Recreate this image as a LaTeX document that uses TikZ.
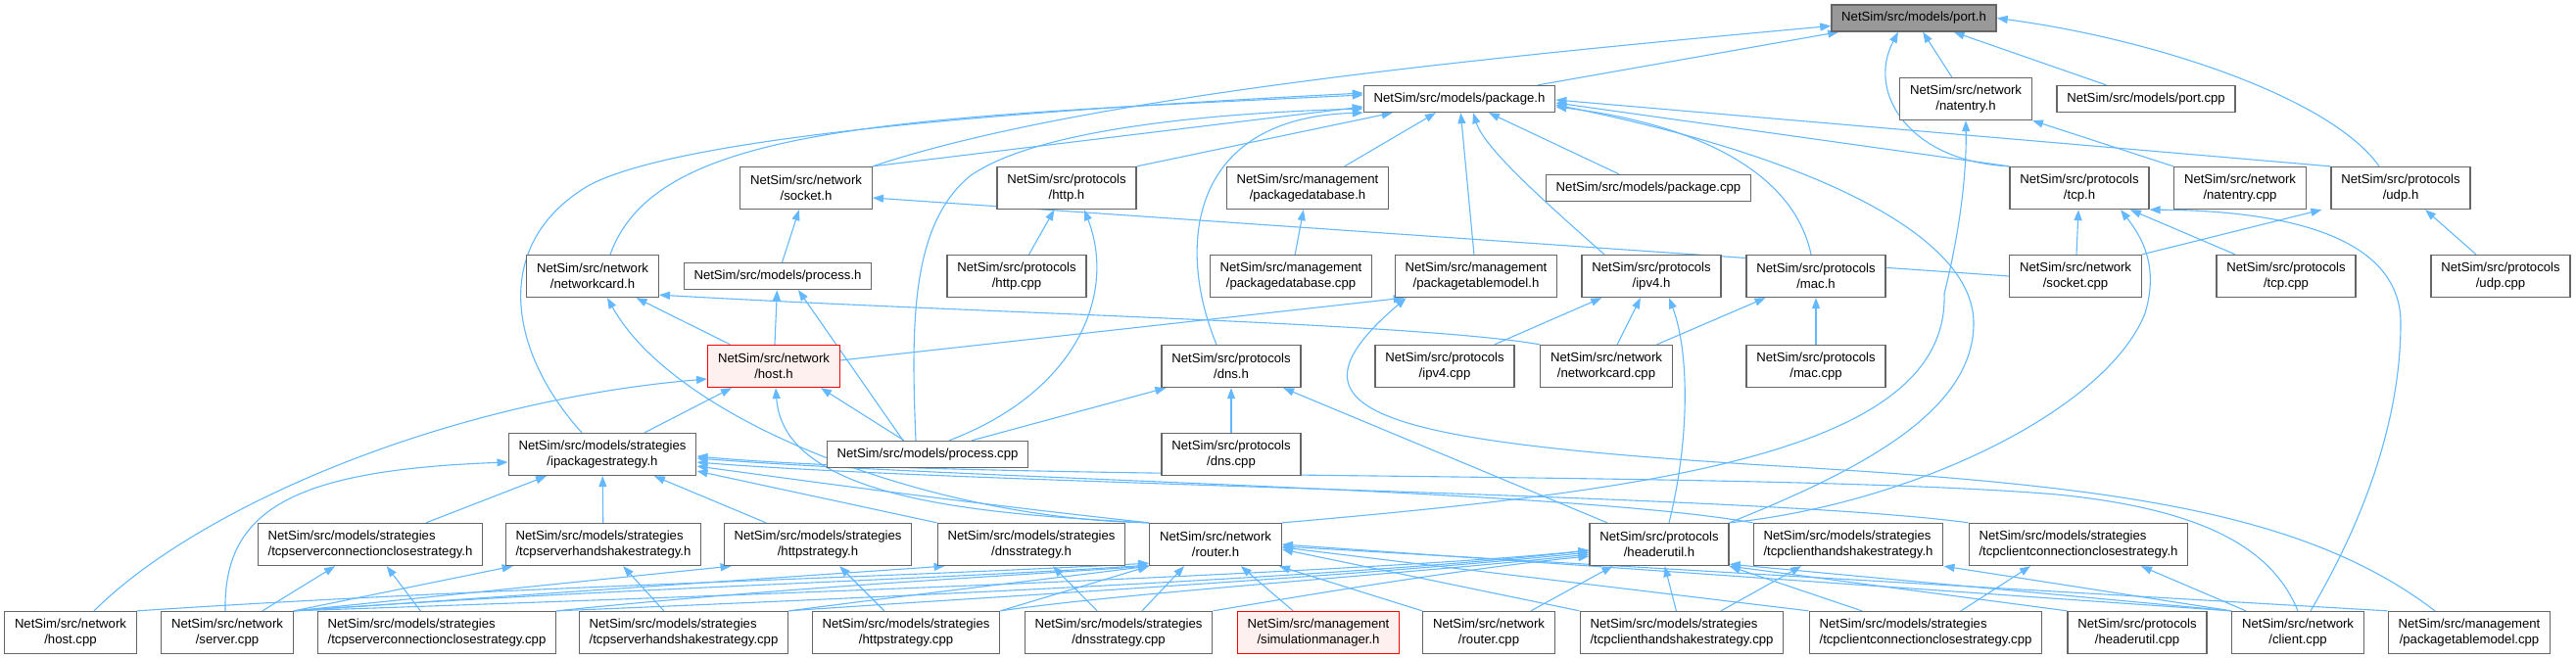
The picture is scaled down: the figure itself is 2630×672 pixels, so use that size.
\documentclass[tikz,border=0pt]{standalone}
\usepackage{fontspec}
\setmainfont{Liberation Sans}
\usepackage{tikz}
\usetikzlibrary{arrows.meta,backgrounds}
\definecolor{edgex}{HTML}{63B8FF}
\definecolor{framex}{HTML}{666666}
\definecolor{rootx}{HTML}{999999}
\definecolor{hotbg}{HTML}{FFF0F0}
\tikzset{
  fb/.style={draw=framex,line width=1.3pt,fill=white,align=center,inner xsep=10.3pt,inner ysep=0pt,minimum height=43pt},
  fs/.style={fb,minimum height=27pt},
  fl/.style={fb,align=left},
  rootb/.style={fs,fill=rootx},
  hotb/.style={fb,draw=red,fill=hotbg},
  ar/.style={-{Triangle[length=11pt,width=8pt]},line width=1.1pt,edgex}
}

\begin{document}
\begin{tikzpicture}[x=1pt,y=-1pt,font=\fontsize{13.15}{16.5}\selectfont]
\useasboundingbox (0,0) rectangle (2630,672);
\node[rootb] (port) at (1954,18.5) {NetSim/src/models/port.h};
\node[fs] (package) at (1490,101) {NetSim/src/models/package.h};
\node[fb] (natentry) at (2007,101) {NetSim/src/network\\/natentry.h};
\node[fs] (portcpp) at (2191,101) {NetSim/src/models/port.cpp};
\node[fb] (socket) at (823,192) {NetSim/src/network\\/socket.h};
\node[fb] (http) at (1089,192) {NetSim/src/protocols\\/http.h};
\node[fb] (pkgdb) at (1335,192) {NetSim/src/management\\/packagedatabase.h};
\node[fs] (packagecpp) at (1683,192) {NetSim/src/models/package.cpp};
\node[fb] (tcp) at (2123,192) {NetSim/src/protocols\\/tcp.h};
\node[fb] (natentrycpp) at (2287,192) {NetSim/src/network\\/natentry.cpp};
\node[fb] (udp) at (2451,192) {NetSim/src/protocols\\/udp.h};
\node[fb] (netcard) at (605,282) {NetSim/src/network\\/networkcard.h};
\node[fs] (process) at (794,282) {NetSim/src/models/process.h};
\node[fb] (httpcpp) at (1038,282) {NetSim/src/protocols\\/http.cpp};
\node[fb] (pkgdbcpp) at (1318,282) {NetSim/src/management\\/packagedatabase.cpp};
\node[fb] (ptm) at (1507,282) {NetSim/src/management\\/packagetablemodel.h};
\node[fb] (ipv4) at (1686,282) {NetSim/src/protocols\\/ipv4.h};
\node[fb] (mac) at (1854,282) {NetSim/src/protocols\\/mac.h};
\node[fb] (socketcpp) at (2119,282) {NetSim/src/network\\/socket.cpp};
\node[fb] (tcpcpp) at (2334,282) {NetSim/src/protocols\\/tcp.cpp};
\node[fb] (udpcpp) at (2553,282) {NetSim/src/protocols\\/udp.cpp};
\node[hotb] (host) at (790,374) {NetSim/src/network\\/host.h};
\node[fb] (dns) at (1257,374) {NetSim/src/protocols\\/dns.h};
\node[fb] (ipv4cpp) at (1475,374) {NetSim/src/protocols\\/ipv4.cpp};
\node[fb] (netcardcpp) at (1640,374) {NetSim/src/network\\/networkcard.cpp};
\node[fb] (maccpp) at (1854,374) {NetSim/src/protocols\\/mac.cpp};
\node[fb] (ips) at (615,464) {NetSim/src/models/strategies\\/ipackagestrategy.h};
\node[fs] (processcpp) at (947,464) {NetSim/src/models/process.cpp};
\node[fb] (dnscpp) at (1257,464) {NetSim/src/protocols\\/dns.cpp};
\node[fl] (tscs) at (378,556) {NetSim/src/models/strategies\\/tcpserverconnectionclosestrategy.h};
\node[fl] (tshs) at (616,556) {NetSim/src/models/strategies\\/tcpserverhandshakestrategy.h};
\node[fb] (https) at (835,556) {NetSim/src/models/strategies\\/httpstrategy.h};
\node[fb] (dnss) at (1053,556) {NetSim/src/models/strategies\\/dnsstrategy.h};
\node[fb] (router) at (1241,556) {NetSim/src/network\\/router.h};
\node[fb] (hdr) at (1694,556) {NetSim/src/protocols\\/headerutil.h};
\node[fl] (tchs) at (1887,556) {NetSim/src/models/strategies\\/tcpclienthandshakestrategy.h};
\node[fl] (tccs) at (2122,556) {NetSim/src/models/strategies\\/tcpclientconnectionclosestrategy.h};
\node[fb] (hostcpp) at (72,646) {NetSim/src/network\\/host.cpp};
\node[fb] (servercpp) at (232,646) {NetSim/src/network\\/server.cpp};
\node[fl] (tscscpp) at (446,646) {NetSim/src/models/strategies\\/tcpserverconnectionclosestrategy.cpp};
\node[fl] (tshscpp) at (698,646) {NetSim/src/models/strategies\\/tcpserverhandshakestrategy.cpp};
\node[fb] (httpscpp) at (925,646) {NetSim/src/models/strategies\\/httpstrategy.cpp};
\node[fb] (dnsscpp) at (1142,646) {NetSim/src/models/strategies\\/dnsstrategy.cpp};
\node[hotb] (simmgr) at (1346,646) {NetSim/src/management\\/simulationmanager.h};
\node[fb] (routercpp) at (1520,646) {NetSim/src/network\\/router.cpp};
\node[fl] (tchscpp) at (1717,646) {NetSim/src/models/strategies\\/tcpclienthandshakestrategy.cpp};
\node[fl] (tccscpp) at (1966,646) {NetSim/src/models/strategies\\/tcpclientconnectionclosestrategy.cpp};
\node[fb] (hdrcpp) at (2182,646) {NetSim/src/protocols\\/headerutil.cpp};
\node[fb] (clientcpp) at (2346,646) {NetSim/src/network\\/client.cpp};
\node[fb] (ptmcpp) at (2521,646) {NetSim/src/management\\/packagetablemodel.cpp};
\begin{scope}[on background layer]
\draw[ar] (package) -- ([xshift=8pt]port.south west);
\draw[ar] (socket.north east) .. controls (1100,100) and (1500,60) .. ([yshift=-8pt]port.west);
\draw[ar] (natentry) -- (port);
\draw[ar] (portcpp) -- (port);
\draw[ar] (tcp.north west) .. controls (1950,165) and (1905,95) .. ([xshift=-16pt]port.south);
\draw[ar] ([xshift=-22pt]udp.north) .. controls (2380,100) and (2200,40) .. (port.east);
\draw[ar] (socket.north east) -- ([yshift=-8pt]package.west);
\draw[ar] (http.north east) -- ([xshift=30pt]package.south west);
\draw[ar] (pkgdb) -- (package);
\draw[ar] (packagecpp) -- (package);
\draw[ar] (ptm) -- (package);
\draw[ar] ([xshift=-48pt]ipv4.north) .. controls (1570,200) and (1515,150) .. ([xshift=14pt]package.south);
\draw[ar] ([xshift=-5pt]mac.north) .. controls (1830,170) and (1720,125) .. ([yshift=-8pt]package.east);
\draw[ar] (tcp.north west) -- ([yshift=-4pt]package.east);
\draw[ar] (udp.north west) -- ([yshift=-1pt]package.east);
\draw[ar] ([xshift=18pt]netcard.north) .. controls (670,130) and (900,120) .. ([yshift=4pt]package.west);
\draw[ar] ([xshift=-21pt]ips.north) .. controls (520,360) and (500,250) .. (600,190) .. controls (700,135) and (1100,110) .. ([yshift=6pt]package.west);
\draw[ar] ([xshift=-12pt]processcpp.north) .. controls (930,330) and (930,230) .. (990,180) .. controls (1060,130) and (1250,115) .. ([yshift=-10pt]package.west);
\draw[ar] ([xshift=-15pt]dns.north) .. controls (1200,250) and (1215,120) .. (package.south west);
\draw[ar] (hdr.north east) .. controls (1900,480) and (2015,420) .. (2015,330) .. controls (2015,240) and (1850,160) .. ([yshift=-6pt]package.east);
\draw[ar] (process) -- (socket);
\draw[ar] (socketcpp.west) -- ([yshift=-10pt]socket.east);
\draw[ar] (httpcpp) -- (http);
\draw[ar] ([xshift=22pt]processcpp.north) .. controls (1100,400) and (1140,300) .. ([xshift=18pt]http.south);
\draw[ar] (pkgdbcpp) -- (pkgdb);
\draw[ar] (natentrycpp) -- (natentry);
\draw[ar] (router.north east) .. controls (1700,500) and (1990,460) .. (1985,300) .. controls (2000,240) and (2008,180) .. (natentry.south);
\draw[ar] (socketcpp) -- (tcp);
\draw[ar] (tcpcpp) -- (tcp);
\draw[ar] (hdr.north east) .. controls (1950,515) and (2150,420) .. (2190,320) .. controls (2205,270) and (2185,240) .. ([xshift=42pt]tcp.south);
\draw[ar] ([xshift=13pt]clientcpp.north) .. controls (2420,520) and (2451,420) .. (2451,330) .. controls (2451,240) and (2330,215) .. (tcp.south east);
\draw[ar] (socketcpp.north east) -- ([xshift=-9pt]udp.south west);
\draw[ar] (udpcpp) -- (udp);
\draw[ar] (host) -- (netcard);
\draw[ar] (router.north west) .. controls (950,530) and (690,430) .. ([xshift=15pt]netcard.south);
\draw[ar] (netcardcpp.north west) .. controls (1450,330) and (1000,320) .. ([yshift=3pt]netcard.south east);
\draw[ar] (host) -- (process);
\draw[ar] ([xshift=-25pt]processcpp.north) -- ([xshift=21pt]process.south);
\draw[ar] ([yshift=6pt]host.east) -- ([xshift=10pt]ptm.south west);
\draw[ar] ([xshift=-35pt]ptmcpp.north) .. controls (2350,520) and (2150,495) .. (1800,475) .. controls (1400,450) and (1300,420) .. ([xshift=12pt]ptm.south west);
\draw[ar] (ipv4cpp) -- (ipv4);
\draw[ar] (netcardcpp) -- (ipv4);
\draw[ar] ([xshift=10pt]hdr.north) .. controls (1725,450) and (1725,360) .. ([xshift=18pt]ipv4.south);
\draw[ar] (netcardcpp) -- (mac);
\draw[ar] (maccpp) -- (mac);
\draw[ar] ([xshift=24pt]hostcpp.north) .. controls (200,520) and (450,410) .. ([yshift=-13pt]host.west);
\draw[ar] (ips) -- (host);
\draw[ar] ([xshift=-24pt]processcpp.north) -- ([xshift=48pt]host.south);
\draw[ar] (router.north west) .. controls (1000,525) and (800,510) .. ([xshift=2pt]host.south);
\draw[ar] ([xshift=45pt]processcpp.north) -- ([xshift=5pt]dns.south west);
\draw[ar] (dnscpp) -- (dns);
\draw[ar] (hdr) -- (dns);
\draw[ar] (tscs) -- (ips);
\draw[ar] (tshs) -- (ips);
\draw[ar] (https) -- (ips);
\draw[ar] ([xshift=-2pt]servercpp.north) .. controls (228,520) and (300,480) .. ([yshift=-8pt]ips.west);
\draw[ar] (dnss.north west) -- ([yshift=-17pt]ips.east);
\draw[ar] (router.north west) .. controls (1000,515) and (850,495) .. ([yshift=-12pt]ips.east);
\draw[ar] (tchs.north west) .. controls (1600,500) and (1000,490) .. ([yshift=-4pt]ips.east);
\draw[ar] (tccs.north west) .. controls (1800,505) and (1000,495) .. ([yshift=-8pt]ips.east);
\draw[ar] (clientcpp.north) .. controls (2320,560) and (2250,520) .. (2100,505) .. controls (1800,480) and (1000,492) .. ([yshift=-2pt]ips.east);
\draw[ar] (servercpp) -- (tscs);
\draw[ar] (tscscpp) -- (tscs);
\draw[ar] (servercpp.north east) -- ([xshift=8pt]tshs.south west);
\draw[ar] (tshscpp) -- (tshs);
\draw[ar] (servercpp.north east) -- ([xshift=8pt]https.south west);
\draw[ar] (httpscpp) -- (https);
\draw[ar] (servercpp.north east) -- ([xshift=8pt]dnss.south west);
\draw[ar] (dnsscpp) -- (dnss);
\draw[ar] (hostcpp.north east) .. controls (500,600) and (900,590) .. ([yshift=3pt]router.south west);
\draw[ar] (servercpp.north east) .. controls (600,602) and (950,592) .. ([yshift=1pt]router.south west);
\draw[ar] (tscscpp.north east) .. controls (800,600) and (1000,590) .. (router.south west);
\draw[ar] (tshscpp.north east) .. controls (950,605) and (1080,590) .. (router.south west);
\draw[ar] (httpscpp.north east) -- (router.south west);
\draw[ar] ([xshift=24pt]dnsscpp.north) -- ([xshift=36pt]router.south west);
\draw[ar] (simmgr) -- (router);
\draw[ar] (routercpp.north west) -- ([xshift=-3pt]router.south east);
\draw[ar] (tchscpp.north west) -- ([yshift=-5pt]router.east);
\draw[ar] (tccscpp.north west) -- ([yshift=-3pt]router.east);
\draw[ar] (clientcpp.north west) -- (router.east);
\draw[ar] (ptmcpp.north west) -- ([yshift=-2pt]router.east);
\draw[ar] (servercpp.north east) .. controls (700,610) and (1400,585) .. ([yshift=-6pt]hdr.west);
\draw[ar] (tscscpp.north east) .. controls (900,610) and (1400,588) .. ([yshift=-6pt]hdr.west);
\draw[ar] (tshscpp.north east) .. controls (1000,610) and (1400,588) .. ([yshift=-8pt]hdr.west);
\draw[ar] (httpscpp.north east) .. controls (1150,605) and (1450,585) .. ([yshift=-10pt]hdr.west);
\draw[ar] (dnsscpp.north east) .. controls (1350,605) and (1500,580) .. ([yshift=-12pt]hdr.west);
\draw[ar] ([xshift=-25pt]routercpp.north east) -- ([xshift=24pt]hdr.south west);
\draw[ar] (tchscpp) -- (hdr);
\draw[ar] ([xshift=-65pt]tccscpp.north) -- (hdr.south east);
\draw[ar] (hdrcpp.north west) -- (hdr.south east);
\draw[ar] (clientcpp.north west) -- ([yshift=2pt]hdr.south east);
\draw[ar] ([xshift=40pt]tchscpp.north) -- ([xshift=-48pt]tchs.south);
\draw[ar] (clientcpp.north west) -- (tchs.south east);
\draw[ar] ([xshift=36pt]tccscpp.north) -- ([xshift=-49pt]tccs.south);
\draw[ar] ([xshift=-53pt]clientcpp.north) -- ([xshift=64pt]tccs.south);
\end{scope}
\end{tikzpicture}
\end{document}
